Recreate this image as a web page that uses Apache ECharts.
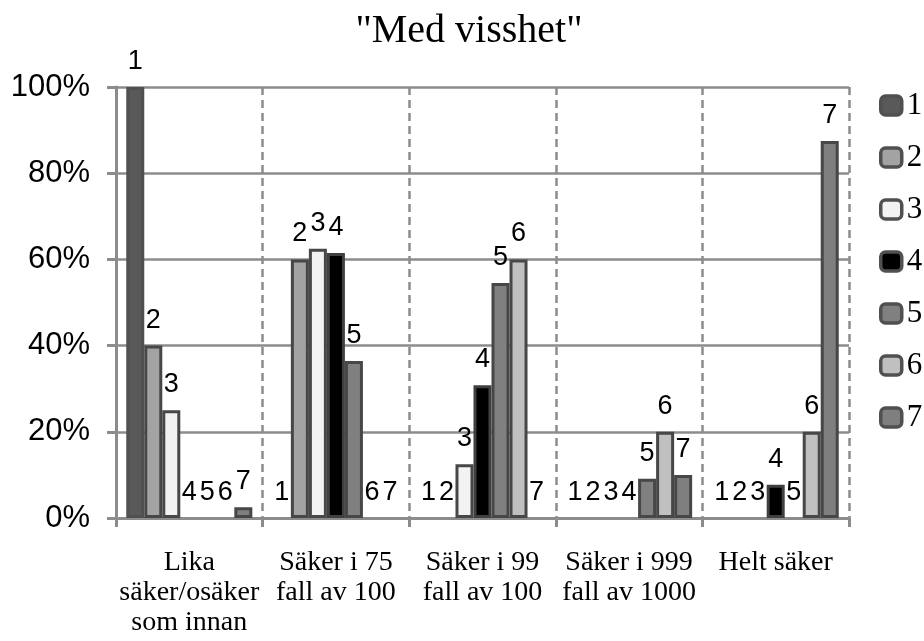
<!DOCTYPE html>
<html>
<head>
<meta charset="utf-8">
<title>Med visshet</title>
<script src="https://cdn.jsdelivr.net/npm/echarts@6/dist/echarts.min.js"></script>
<style>
  html, body { margin: 0; padding: 0; background: #fff; }
  #chart { width: 924px; height: 641px; }
</style>
</head>
<body>
<div id="chart"></div>
<script>
// kategorier och andelar (%) per svarsgrupp 1-7
const categories = [
  'Lika\nsäker/osäker\nsom innan',
  'Säker i 75\nfall av 100',
  'Säker i 99\nfall av 100',
  'Säker i 999\nfall av 1000',
  'Helt säker'
];
const seriesNames = ['1', '2', '3', '4', '5', '6', '7'];
const s1 = [100, 0, 0, 0, 0];
const s2 = [40, 60, 0, 0, 0];
const s3 = [25, 62.5, 12.5, 0, 0];
const s4 = [0, 61.5, 30.8, 0, 7.7];
const s5 = [0, 36.4, 54.5, 9.1, 0];
const s6 = [0, 0, 60, 20, 20];
const s7 = [2.5, 0, 0, 10, 87.5];
const yTicks = [0, 20, 40, 60, 80, 100];

const values = [s1, s2, s3, s4, s5, s6, s7];
const fills = ['#595959', '#a3a3a3', '#f2f2f2', '#000000', '#808080', '#c0c0c0', '#7f7f7f'];
const borders = ['#505050', '#474747', '#474747', '#404040', '#474747', '#474747', '#474747'];

const gridColor = '#8c8c8c';
const sans = 'Liberation Sans, Arial, sans-serif';
const serif = 'Liberation Serif, Times New Roman, serif';

const chart = echarts.init(document.getElementById('chart'));

const option = {
  animation: false,
  backgroundColor: '#fff',
  title: {
    text: '"Med visshet"',
    left: 464,
    top: 6,
    textAlign: 'center',
    textStyle: {
      fontFamily: serif,
      fontSize: 40,
      fontWeight: 'normal',
      color: '#000'
    }
  },
  legend: {
    orient: 'vertical',
    left: 874,
    top: 85,
    itemWidth: 21,
    itemHeight: 19,
    itemGap: 21,
    icon: 'roundRect',
    textStyle: {
      fontFamily: serif,
      fontSize: 31,
      lineHeight: 30,
      color: '#000'
    },
    data: seriesNames.map((name, i) => ({
      name: name,
      itemStyle: { color: fills[i], borderColor: '#505050', borderWidth: 3.5 }
    }))
  },
  grid: {
    left: 116,
    right: 75,
    top: 87,
    bottom: 123
  },
  xAxis: {
    type: 'category',
    data: categories,
    axisLine: { lineStyle: { color: gridColor, width: 3 } },
    axisTick: { show: true, length: 9, lineStyle: { color: gridColor, width: 3 } },
    splitLine: {
      show: true,
      lineStyle: { color: gridColor, width: 2.5, type: [8, 5] }
    },
    axisLabel: {
      margin: 30,
      interval: 0,
      fontFamily: serif,
      fontSize: 28,
      lineHeight: 30,
      color: '#000'
    }
  },
  yAxis: {
    type: 'value',
    min: yTicks[0],
    max: yTicks[yTicks.length - 1],
    interval: 20,
    axisLine: { show: true, lineStyle: { color: gridColor, width: 3 } },
    axisTick: { show: true, length: 9, lineStyle: { color: gridColor, width: 3 } },
    splitLine: { lineStyle: { color: gridColor, width: 2.5 } },
    axisLabel: {
      margin: 26,
      formatter: '{value}%',
      fontFamily: sans,
      fontSize: 31,
      color: '#000'
    }
  },
  series: seriesNames.map((name, i) => ({
    name: name,
    type: 'bar',
    // nollstaplar ritas utan kantlinje, bara etiketten syns
    data: values[i].map(v => (v === 0 ? { value: 0, itemStyle: { borderWidth: 0 } } : v)),
    barGap: '0%',
    barCategoryGap: '14%',
    itemStyle: {
      color: fills[i],
      borderColor: borders[i],
      borderWidth: 3
    },
    label: {
      show: true,
      position: 'top',
      distance: 12,
      formatter: name,
      fontFamily: sans,
      fontSize: 27,
      color: '#000'
    }
  }))
};

chart.setOption(option);
</script>
</body>
</html>
